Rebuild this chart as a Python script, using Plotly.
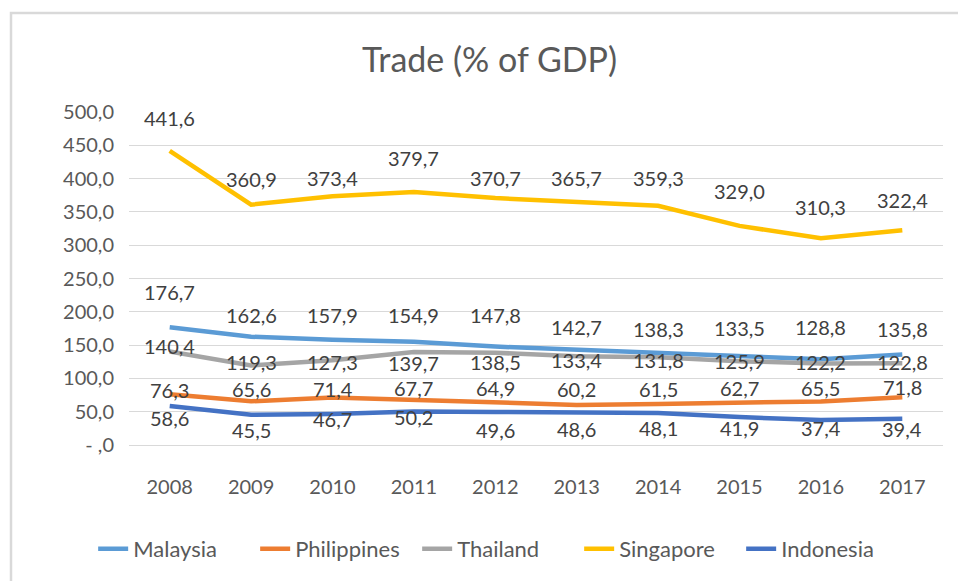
import plotly.graph_objects as go

years = ["2008", "2009", "2010", "2011", "2012", "2013", "2014", "2015", "2016", "2017"]
malaysia = [176.7, 162.6, 157.9, 154.9, 147.8, 142.7, 138.3, 133.5, 128.8, 135.8]
philippines = [76.3, 65.6, 71.4, 67.7, 64.9, 60.2, 61.5, 62.7, 65.5, 71.8]
thailand = [140.4, 119.3, 127.3, 139.7, 138.5, 133.4, 131.8, 125.9, 122.2, 122.8]
singapore = [441.6, 360.9, 373.4, 379.7, 370.7, 365.7, 359.3, 329.0, 310.3, 322.4]
indonesia = [58.6, 45.5, 46.7, 50.2, 49.6, 48.6, 48.1, 41.9, 37.4, 39.4]
y_ticks = [0, 50, 100, 150, 200, 250, 300, 350, 400, 450, 500]

# label offsets in pixels (style), positive = up
label_shift = {
    "Malaysia": [35, 22, 25, 27, 32, 23, 24, 28, 32, 26],
    "Philippines": [4, 12, 8, 12, 14, 16, 15, 15, 13, 10],
    "Thailand": [5, 4, -2, -11, -9, -4, -3, 0, 2, 1],
    "Singapore": [33, 26, 18, 34, 20, 23, 28, 35, 31, 30],
    "Indonesia": [-12, -15, -5, -5, -18, -16, -15, -11, -8, -10],
}

series = [
    ("Malaysia", malaysia, "#5B9BD5"),
    ("Philippines", philippines, "#ED7D31"),
    ("Thailand", thailand, "#A5A5A5"),
    ("Singapore", singapore, "#FFC000"),
    ("Indonesia", indonesia, "#4472C4"),
]

FONT = "Lato, Calibri, Carlito, sans-serif"
TXT = "#595959"


def fmt(v):
    return f"{v:.1f}".replace(".", ",")


fig = go.Figure()
annotations = []
for name, vals, color in series:
    fig.add_trace(go.Scatter(
        x=years, y=vals, name=name, mode="lines",
        line=dict(color=color, width=4.5),
        hoverinfo="skip",
    ))
    for i, (v, s) in enumerate(zip(vals, label_shift[name])):
        annotations.append(dict(
            x=i, y=v, xref="x", yref="y", text=fmt(v), showarrow=False,
            yshift=s, font=dict(family=FONT, size=20, color="#404040"),
        ))

fig.update_layout(
    width=958, height=581,
    margin=dict(l=129, r=15, t=112, b=136),
    paper_bgcolor="white", plot_bgcolor="white",
    font=dict(family=FONT, size=20, color=TXT),
    title=dict(text="Trade (% of GDP)", x=0.511, xref="container", xanchor="center",
               y=1 - 60 / 581, yref="container", yanchor="middle",
               font=dict(family=FONT, size=34, color=TXT)),
    legend=dict(orientation="h", xref="container", yref="container",
                x=0.52, xanchor="center", y=1 - 549 / 581, yanchor="middle",
                font=dict(family=FONT, size=22, color=TXT),
                entrywidth=117, entrywidthmode="pixels", traceorder="normal"),
    annotations=annotations,
    showlegend=True,
)

fig.update_xaxes(type="category", range=[-0.5, len(years) - 0.5],
                 showgrid=False, showline=False, zeroline=False,
                 ticks="", ticklabelstandoff=28,
                 tickfont=dict(family=FONT, size=20, color=TXT))
fig.update_yaxes(range=[0, 500], tickvals=y_ticks,
                 ticktext=["- ,0" if v == 0 else fmt(v) for v in y_ticks],
                 showgrid=True, gridcolor="#D9D9D9", gridwidth=1,
                 zeroline=True, zerolinecolor="#D9D9D9", zerolinewidth=1,
                 showline=False, ticks="", ticklabelstandoff=14,
                 tickfont=dict(family=FONT, size=20, color=TXT))

# outer chart border
fig.add_shape(type="rect", xref="paper", yref="paper",
              x0=(11 - 129) / 814, x1=(964 - 129) / 814,
              y0=(445 - 590) / 333, y1=(445 - 13) / 333,
              line=dict(color="#D9D9D9", width=2.5), fillcolor="rgba(0,0,0,0)",
              layer="below")

fig.write_html("out.html")
